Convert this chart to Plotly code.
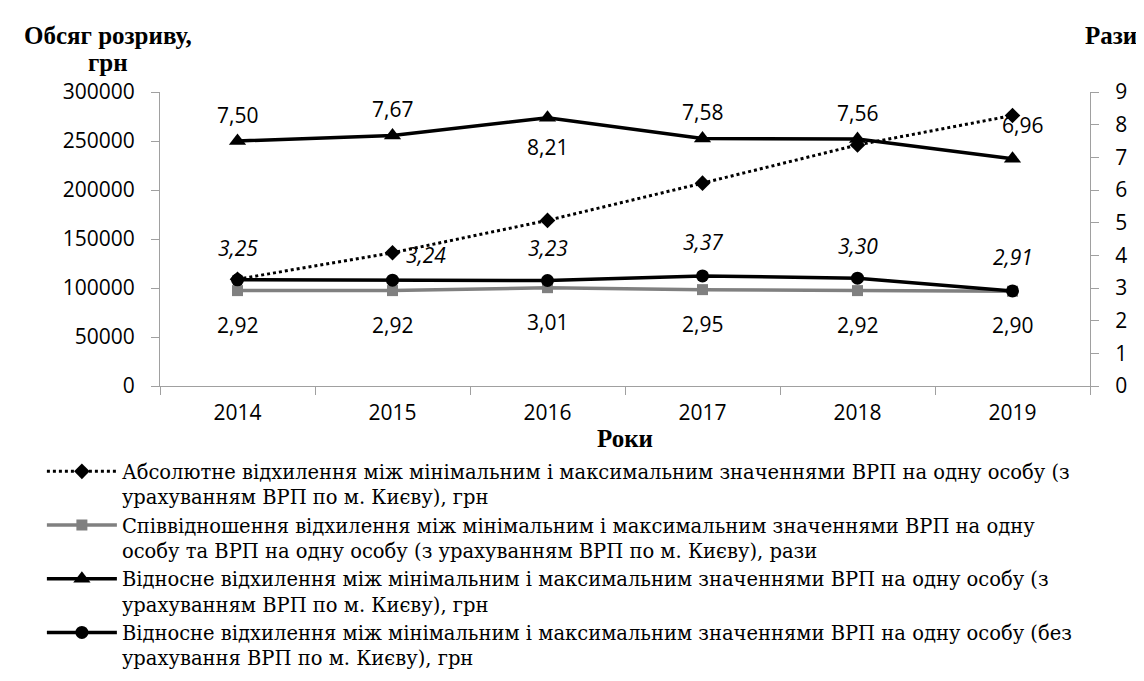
import plotly.graph_objects as go

years = ["2014", "2015", "2016", "2017", "2018", "2019"]
abs_dev = [109000, 136000, 169000, 207000, 246000, 276000]
ratio_dev = [2.92, 2.92, 3.01, 2.95, 2.92, 2.90]
rel_with_kyiv = [7.50, 7.67, 8.21, 7.58, 7.56, 6.96]
rel_without_kyiv = [3.25, 3.24, 3.23, 3.37, 3.30, 2.91]

names = [
    "Абсолютне відхилення між мінімальним і максимальним значеннями ВРП на одну особу (з<br>урахуванням ВРП по м. Києву), грн",
    "Співвідношення відхилення між мінімальним і максимальним значеннями ВРП на одну<br>особу та ВРП на одну особу (з урахуванням ВРП по м. Києву), рази",
    "Відносне відхилення між мінімальним і максимальним значеннями ВРП на одну особу (з<br>урахуванням ВРП по м. Києву), грн",
    "Відносне відхилення між мінімальним і максимальним значеннями ВРП на одну особу (без<br>урахування ВРП по м. Києву), грн",
]

TICKFONT = dict(family="Open Sans", size=21, color="#000000")
SERIF = "Liberation Serif"

fig = go.Figure()
fig.add_trace(go.Scatter(
    x=years, y=abs_dev, name=names[0], mode="lines+markers",
    line=dict(color="black", width=3, dash="dot"),
    marker=dict(symbol="diamond", size=12, color="black"), yaxis="y"))
fig.add_trace(go.Scatter(
    x=years, y=ratio_dev, name=names[1], mode="lines+markers",
    line=dict(color="#808080", width=3.5),
    marker=dict(symbol="square", size=11, color="#808080"), yaxis="y2"))
fig.add_trace(go.Scatter(
    x=years, y=rel_with_kyiv, name=names[2], mode="lines+markers",
    line=dict(color="black", width=3.5),
    marker=dict(symbol="triangle-up", size=15, color="black"), yaxis="y2"))
fig.add_trace(go.Scatter(
    x=years, y=rel_without_kyiv, name=names[3], mode="lines+markers",
    line=dict(color="black", width=3.5),
    marker=dict(symbol="circle", size=13, color="black"), yaxis="y2"))

def fmt(v):
    return f"{v:.2f}".replace(".", ",")

LBLFONT = dict(family="Open Sans", size=21, color="black")
annotations = []
tri_shift = [26, 26, -29, 26, 26, 34]
tri_x = [0, 0, 0, 0, 0, 10]
for i, (v, ys, xs) in enumerate(zip(rel_with_kyiv, tri_shift, tri_x)):
    annotations.append(dict(x=i, y=v, xref="x", yref="y2", text=fmt(v), showarrow=False,
                            yshift=ys, xshift=xs, font=LBLFONT))
cir_shift = [32, 25, 32, 34, 32, 34]
cir_x = [0, 33, 0, 0, 0, 0]
for i, (v, ys, xs) in enumerate(zip(rel_without_kyiv, cir_shift, cir_x)):
    annotations.append(dict(x=i, y=v, xref="x", yref="y2", text=f"<i>{fmt(v)}</i>", showarrow=False,
                            yshift=ys, xshift=xs, font=LBLFONT))
for i, v in enumerate(ratio_dev):
    annotations.append(dict(x=i, y=v, xref="x", yref="y2", text=fmt(v), showarrow=False,
                            yshift=-34, font=LBLFONT))

TITLEFONT = dict(family=SERIF, size=25, color="black")
annotations.append(dict(x=-0.056, y=1.191, xref="paper", yref="paper", showarrow=False,
                        text="<b>Обсяг розриву,</b>", xanchor="center", yanchor="middle",
                        font=TITLEFONT))
annotations.append(dict(x=-0.056, y=1.100, xref="paper", yref="paper", showarrow=False,
                        text="<b>грн</b>", xanchor="center", yanchor="middle",
                        font=TITLEFONT))
annotations.append(dict(x=1.0226, y=1.191, xref="paper", yref="paper", showarrow=False,
                        text="<b>Рази</b>", xanchor="center", yanchor="middle",
                        font=TITLEFONT))
annotations.append(dict(x=0.5, y=-0.178, xref="paper", yref="paper", showarrow=False,
                        text="<b>Роки</b>", xanchor="center", yanchor="middle",
                        font=TITLEFONT))

fig.update_layout(
    width=1144, height=681,
    margin=dict(l=152, r=62, t=84, b=288),
    paper_bgcolor="white", plot_bgcolor="white",
    showlegend=True,
    legend=dict(x=-0.127, y=-0.225, xanchor="left", yanchor="top", valign="top",
                font=dict(family="DejaVu Serif", size=19.5, color="black"),
                bgcolor="rgba(0,0,0,0)", tracegroupgap=0, itemwidth=70),
    xaxis=dict(type="category", range=[-0.5, 5.5], showline=True, linecolor="#a0a0a0", linewidth=1,
               ticks="outside", tickson="boundaries", ticklen=8, tickcolor="#a0a0a0",
               tickfont=TICKFONT, showgrid=False, zeroline=False, ticklabelstandoff=8,
               automargin=False),
    yaxis=dict(range=[0, 300000], dtick=50000, showline=True, linecolor="#a0a0a0",
               ticks="outside", ticklen=8, tickcolor="#a0a0a0", tickfont=TICKFONT,
               showgrid=False, zeroline=False, tickformat="d", ticklabelstandoff=12,
               automargin=False),
    yaxis2=dict(range=[0, 9], dtick=1, overlaying="y", side="right", showline=True,
                linecolor="#a0a0a0", ticks="outside", ticklen=8, tickcolor="#a0a0a0",
                tickfont=TICKFONT, showgrid=False, zeroline=False, ticklabelstandoff=12,
                automargin=False),
    annotations=annotations,
)

fig.write_html("out.html")
